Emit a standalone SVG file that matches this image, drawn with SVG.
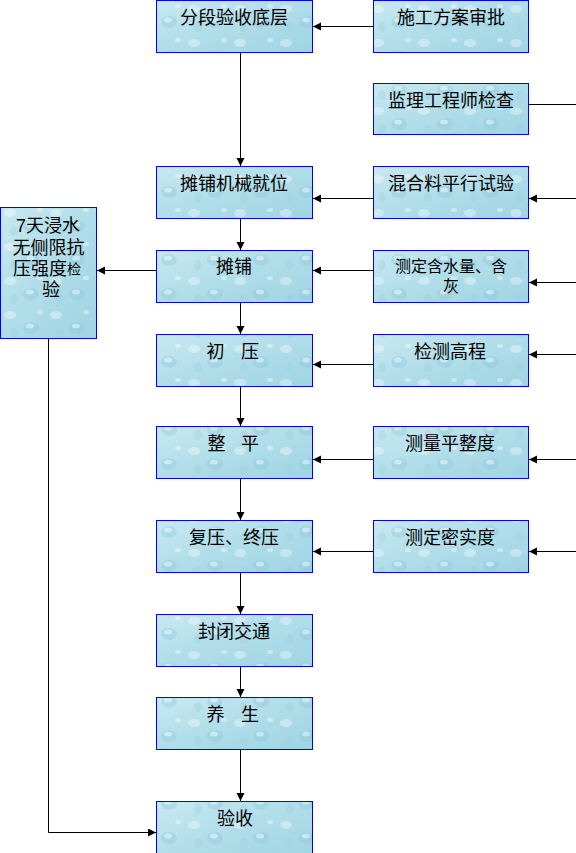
<svg xmlns="http://www.w3.org/2000/svg" width="576" height="853" viewBox="0 0 576 853">
<defs>
<linearGradient id="water" x1="0" y1="0" x2="1" y2="1">
<stop offset="0" stop-color="#c8e9f1"/>
<stop offset="0.5" stop-color="#b0dde9"/>
<stop offset="1" stop-color="#9fd4e2"/>
</linearGradient>
<pattern id="drops" patternUnits="userSpaceOnUse" width="46" height="34">
<ellipse cx="10" cy="9" rx="6" ry="4" fill="#ffffff" fill-opacity="0.35"/>
<ellipse cx="31" cy="22" rx="8" ry="6" fill="#86c6d8" fill-opacity="0.35"/>
<ellipse cx="30" cy="20" rx="4" ry="2.5" fill="#ffffff" fill-opacity="0.45"/>
<ellipse cx="40" cy="6" rx="3" ry="2" fill="#ffffff" fill-opacity="0.4"/>
<ellipse cx="14" cy="27" rx="4" ry="5" fill="#9acfdd" fill-opacity="0.35"/>
</pattern>
<marker id="arr" markerUnits="userSpaceOnUse" markerWidth="9" markerHeight="9" refX="8" refY="4" orient="auto">
<path d="M0,0 L8,4 L0,8 z" fill="#000"/>
</marker>
<style>
.box rect.bg{fill:url(#water);}
.box rect.tx{fill:url(#drops);stroke:#0000ff;stroke-width:1;}
.lbl{font-family:"Liberation Sans","Noto Sans CJK SC",sans-serif;font-size:18px;fill:#000;text-anchor:middle;dominant-baseline:central;}
.sm{font-size:16px;}
.con path{fill:none;stroke:#000;stroke-width:1;}
.con path.a{marker-end:url(#arr);}
</style>
</defs>

<g id="n1" class="box"><rect class="bg" x="156.5" y="0.5" width="156" height="52"/><rect class="tx" x="156.5" y="0.5" width="156" height="52"/><text class="lbl" x="234" y="18">分段验收底层</text></g>
<g id="n2" class="box"><rect class="bg" x="156.5" y="166.5" width="156" height="52"/><rect class="tx" x="156.5" y="166.5" width="156" height="52"/><text class="lbl" x="234" y="184">摊铺机械就位</text></g>
<g id="n3" class="box"><rect class="bg" x="156.5" y="250.5" width="156" height="52"/><rect class="tx" x="156.5" y="250.5" width="156" height="52"/><text class="lbl" x="234" y="267">摊铺</text></g>
<g id="n4" class="box"><rect class="bg" x="156.5" y="334.5" width="156" height="52"/><rect class="tx" x="156.5" y="334.5" width="156" height="52"/><text class="lbl" y="352"><tspan x="218">初</tspan> <tspan x="250">压</tspan></text></g>
<g id="n5" class="box"><rect class="bg" x="156.5" y="426.5" width="156" height="52"/><rect class="tx" x="156.5" y="426.5" width="156" height="52"/><text class="lbl" y="444"><tspan x="219">整</tspan> <tspan x="250">平</tspan></text></g>
<g id="n6" class="box"><rect class="bg" x="156.5" y="520.5" width="156" height="52"/><rect class="tx" x="156.5" y="520.5" width="156" height="52"/><text class="lbl" x="234" y="538">复压、终压</text></g>
<g id="n7" class="box"><rect class="bg" x="156.5" y="614.5" width="156" height="52"/><rect class="tx" x="156.5" y="614.5" width="156" height="52"/><text class="lbl" x="234" y="632">封闭交通</text></g>
<g id="n8" class="box"><rect class="bg" x="156.5" y="697.5" width="156" height="52"/><rect class="tx" x="156.5" y="697.5" width="156" height="52"/><text class="lbl" y="715"><tspan x="218">养</tspan> <tspan x="250">生</tspan></text></g>
<g id="n9" class="box"><rect class="bg" x="156.5" y="801.5" width="156" height="60"/><rect class="tx" x="156.5" y="801.5" width="156" height="60"/><text class="lbl" x="235" y="819">验收</text></g>

<g id="r1" class="box"><rect class="bg" x="373.5" y="0.5" width="155" height="52"/><rect class="tx" x="373.5" y="0.5" width="155" height="52"/><text class="lbl" x="451" y="18">施工方案审批</text></g>
<g id="r2" class="box"><rect class="bg" x="373.5" y="83.5" width="155" height="51"/><rect class="tx" x="373.5" y="83.5" width="155" height="51"/><text class="lbl" x="451" y="101">监理工程师检查</text></g>
<g id="r3" class="box"><rect class="bg" x="373.5" y="166.5" width="155" height="52"/><rect class="tx" x="373.5" y="166.5" width="155" height="52"/><text class="lbl" x="451" y="184">混合料平行试验</text></g>
<g id="r4" class="box"><rect class="bg" x="373.5" y="250.5" width="155" height="52"/><rect class="tx" x="373.5" y="250.5" width="155" height="52"/><text class="lbl sm" x="451" y="266">测定含水量、含</text><text class="lbl sm" x="451" y="286">灰</text></g>
<g id="r5" class="box"><rect class="bg" x="373.5" y="334.5" width="155" height="52"/><rect class="tx" x="373.5" y="334.5" width="155" height="52"/><text class="lbl" x="450" y="352">检测高程</text></g>
<g id="r6" class="box"><rect class="bg" x="373.5" y="426.5" width="155" height="52"/><rect class="tx" x="373.5" y="426.5" width="155" height="52"/><text class="lbl" x="450" y="444">测量平整度</text></g>
<g id="r7" class="box"><rect class="bg" x="373.5" y="520.5" width="155" height="52"/><rect class="tx" x="373.5" y="520.5" width="155" height="52"/><text class="lbl" x="450" y="538">测定密实度</text></g>

<g id="left" class="box"><rect class="bg" x="0.5" y="207.5" width="96" height="131"/><rect class="tx" x="0.5" y="207.5" width="96" height="131"/>
<text class="lbl" x="48" y="226">7天浸水</text>
<text class="lbl" x="48.5" y="248">无侧限抗</text>
<text class="lbl" x="47" y="269">压强度<tspan font-size="14px">检</tspan></text>
<text class="lbl" x="51" y="290" font-size="14px">验</text>
</g>

<g id="connectors" class="con">
<path class="a" d="M373,26.5 H313"/>
<path class="a" d="M240.5,53 V166"/>
<path d="M529,104.5 H576"/>
<path class="a" d="M373,198.5 H313"/>
<path class="a" d="M576,198.5 H529"/>
<path class="a" d="M240.5,219 V250"/>
<path class="a" d="M373,270.5 H313"/>
<path class="a" d="M576,282.5 H529"/>
<path class="a" d="M156,270.5 H97"/>
<path class="a" d="M240.5,303 V334"/>
<path class="a" d="M373,364.5 H313"/>
<path class="a" d="M576,354.5 H529"/>
<path class="a" d="M240.5,387 V426"/>
<path class="a" d="M373,459.5 H313"/>
<path class="a" d="M576,459.5 H529"/>
<path class="a" d="M240.5,479 V520"/>
<path class="a" d="M373,551.5 H313"/>
<path class="a" d="M576,551.5 H529"/>
<path class="a" d="M240.5,573 V614"/>
<path class="a" d="M240.5,667 V697"/>
<path class="a" d="M240.5,750 V801"/>
<path class="a" d="M48.5,339 V832.5 H156"/>
</g>
</svg>
